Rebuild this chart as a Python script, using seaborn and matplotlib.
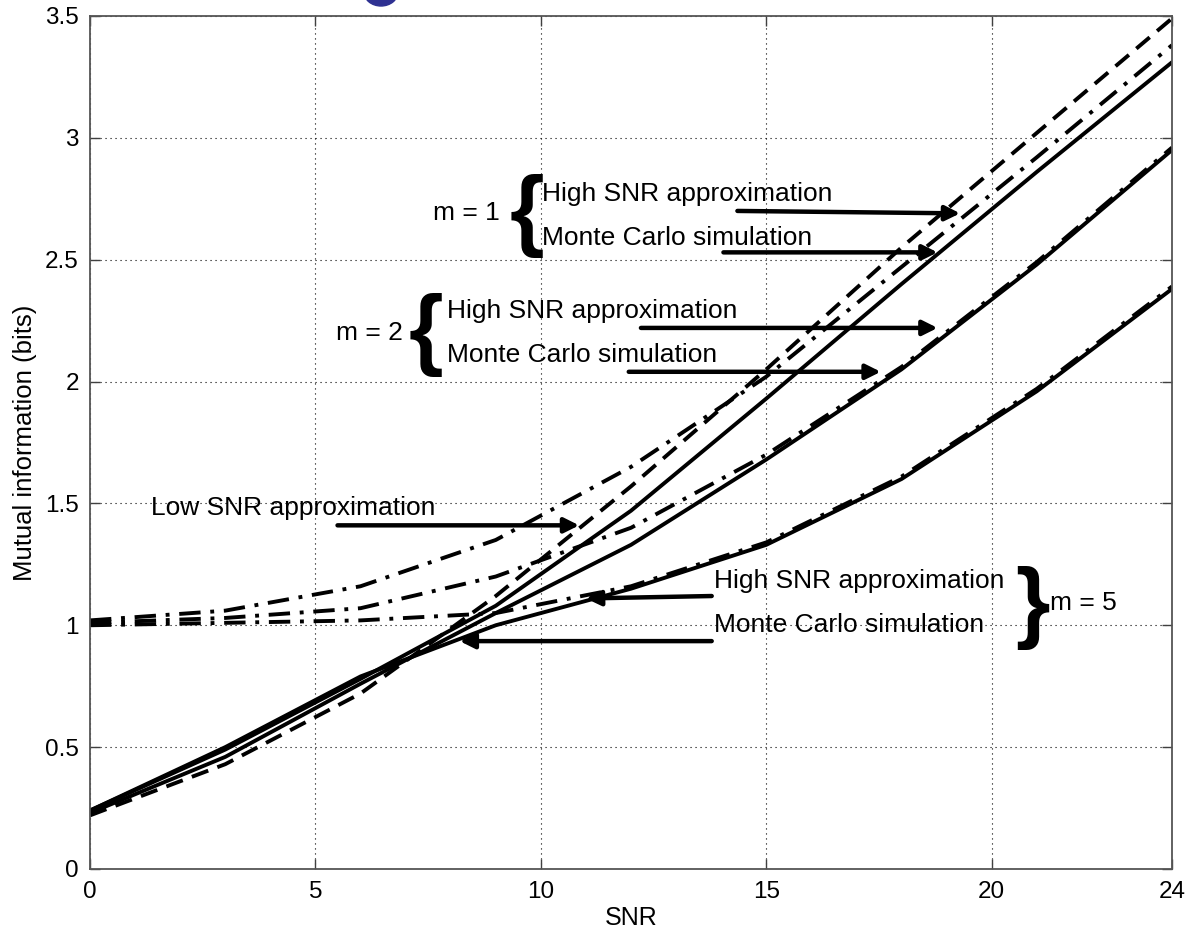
import matplotlib
matplotlib.use("Agg")
import matplotlib.pyplot as plt
import seaborn as sns
from matplotlib.patches import Ellipse

# SNR grid (dB) and curves
snr = [0, 3, 6, 9, 12, 15, 18, 21, 24]
m1_monte = [0.24, 0.49, 0.78, 1.08, 1.47, 1.93, 2.40, 2.86, 3.31]
m1_high = [0.22, 0.43, 0.72, 1.12, 1.57, 2.05, 2.55, 3.02, 3.49]
low_snr = [1.02, 1.06, 1.16, 1.35, 1.65, 2.02, 2.47, 2.92, 3.38]
m2_monte = [0.23, 0.46, 0.76, 1.05, 1.33, 1.68, 2.05, 2.48, 2.95]
m2_high = [1.01, 1.03, 1.07, 1.20, 1.40, 1.70, 2.06, 2.49, 2.96]
m5_monte = [0.24, 0.50, 0.79, 1.00, 1.15, 1.33, 1.60, 1.96, 2.38]
m5_high = [1.00, 1.01, 1.02, 1.05, 1.16, 1.34, 1.61, 1.97, 2.39]

x_ticks = [0, 5, 10, 15, 20, 24]
y_ticks = [0, 0.5, 1, 1.5, 2, 2.5, 3, 3.5]
y_tick_labels = ['0', '0.5', '1', '1.5', '2', '2.5', '3', '3.5']

sns.set_style("ticks")
plt.rcParams['font.family'] = ['Liberation Sans', 'DejaVu Sans']
plt.rcParams['text.color'] = 'black'

fig, ax = plt.subplots(figsize=(11.86, 9.33), dpi=100)
fig.subplots_adjust(left=0.0759, right=0.9882, bottom=0.0686, top=0.9829)

lw = 2.8
dashdot = (0, (5.5, 2.5, 1, 2.5))
dashed = (0, (4.5, 2.5))

sns.lineplot(x=snr, y=m5_monte, ax=ax, color='black', lw=lw)
sns.lineplot(x=snr, y=m5_high, ax=ax, color='black', lw=lw, linestyle=dashdot)
sns.lineplot(x=snr, y=m2_monte, ax=ax, color='black', lw=lw)
sns.lineplot(x=snr, y=m2_high, ax=ax, color='black', lw=lw, linestyle=dashdot)
sns.lineplot(x=snr, y=m1_monte, ax=ax, color='black', lw=lw)
sns.lineplot(x=snr, y=low_snr, ax=ax, color='black', lw=lw, linestyle=dashdot)
sns.lineplot(x=snr, y=m1_high, ax=ax, color='black', lw=lw, linestyle=dashed)

ax.set_xlim(0, 24)
ax.set_ylim(0, 3.5)
ax.set_xticks(x_ticks)
ax.set_yticks(y_ticks)
ax.set_yticklabels(y_tick_labels)
ax.grid(True, color='black', linestyle=(0, (1, 3.5)), linewidth=0.8)
ax.tick_params(direction='in', length=7, width=1, top=True, right=True,
               labelsize=17.5, colors='#404040', labelcolor='black')
ax.tick_params(axis='x', pad=9)
ax.tick_params(axis='y', pad=8)
for sp in ax.spines.values():
    sp.set_visible(True)
    sp.set_color('#555555')
    sp.set_linewidth(1.3)

ax.set_xlabel('SNR', fontsize=18, color='black')
ax.set_ylabel('Mutual information (bits)', fontsize=18.5, color='black')
ax.xaxis.set_label_coords(0.5, -0.043)
ax.yaxis.set_label_coords(-0.049, 0.5)

txt = dict(fontsize=19, va='center', ha='left', color='black')
brace = dict(fontsize=64, fontweight='bold', va='center', ha='center', color='black')


def arrow(start, tip):
    ax.annotate('', xy=tip, xytext=start,
                arrowprops=dict(arrowstyle='-|>', lw=3.2, color='black',
                                mutation_scale=22, shrinkA=0, shrinkB=0))


# m = 1
ax.text(7.6, 2.69, 'm = 1', **txt)
ax.text(9.7, 2.68, '{', **brace)
ax.text(10.03, 2.77, 'High SNR approximation', **txt)
ax.text(10.03, 2.59, 'Monte Carlo simulation', **txt)
arrow((14.36, 2.70), (19.3, 2.69))
arrow((14.05, 2.53), (18.8, 2.53))

# m = 2
ax.text(5.45, 2.20, 'm = 2', **txt)
ax.text(7.45, 2.19, '{', **brace)
ax.text(7.91, 2.29, 'High SNR approximation', **txt)
ax.text(7.91, 2.11, 'Monte Carlo simulation', **txt)
arrow((12.22, 2.22), (18.8, 2.22))
arrow((11.95, 2.04), (17.54, 2.04))

# low SNR
ax.text(1.36, 1.48, 'Low SNR approximation', **txt)
arrow((5.49, 1.41), (10.85, 1.41))

# m = 5
ax.text(13.83, 1.18, 'High SNR approximation', **txt)
ax.text(13.83, 1.00, 'Monte Carlo simulation', **txt)
ax.text(20.9, 1.07, '}', **brace)
ax.text(21.3, 1.09, 'm = 5', **txt)
arrow((13.79, 1.12), (11.0, 1.11))
arrow((13.79, 0.935), (8.2, 0.935))

# bit of a blue title glyph cut off at the top edge
fig.patches.append(Ellipse((381 / 1186, 1 - (-8) / 933), 34 / 1186, 28 / 933,
                           transform=fig.transFigure, color='#2e3192', zorder=5))

fig.savefig('out.png', dpi=100)
